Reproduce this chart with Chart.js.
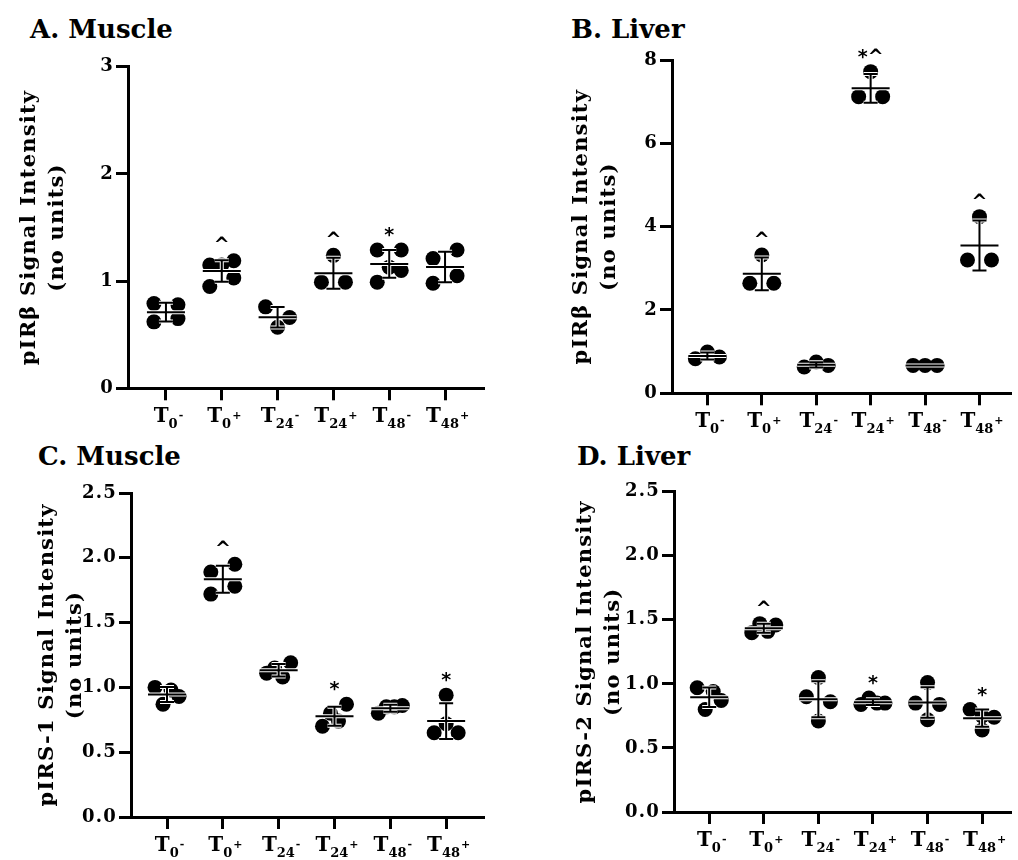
<!DOCTYPE html>
<html>
<head>
<meta charset="utf-8">
<script src="https://cdn.jsdelivr.net/npm/chart.js@4.4.1/dist/chart.umd.min.js"></script>
<style>
  body { margin: 0; background: #fff; }
  #page { position: relative; width: 1018px; height: 860px; overflow: hidden; }
  canvas { position: absolute; }
  .panel-title { position: absolute; font: bold 26px "DejaVu Serif", serif; line-height: 1; color: #000; white-space: nowrap; }
</style>
</head>
<body>
<div id="page">
  <div class="panel-title" style="left:30px;top:16px">A. Muscle</div>
  <div class="panel-title" style="left:571px;top:16px">B. Liver</div>
  <div class="panel-title" style="left:38px;top:443px">C. Muscle</div>
  <div class="panel-title" style="left:577px;top:443px">D. Liver</div>
  <canvas id="chartA" width="500" height="400" style="left:0;top:40px"></canvas>
  <canvas id="chartB" width="498" height="400" style="left:520px;top:40px"></canvas>
  <canvas id="chartC" width="500" height="390" style="left:0;top:470px"></canvas>
  <canvas id="chartD" width="498" height="390" style="left:520px;top:470px"></canvas>
</div>
<script>
// groups on the x axis (T + subscript hour + superscript sign)
const categories = ["T0-", "T0+", "T24-", "T24+", "T48-", "T48+"];

// A. Muscle - pIRβ, one array of points per group
const muscleIRb = [
  [0.79, 0.78, 0.62, 0.65],
  [1.15, 1.15, 1.19, 0.95, 1.03],
  [0.76, 0.57, 0.66],
  [0.99, 1.24, 0.99],
  [1.29, 1.29, 0.99, 1.13, 1.10],
  [1.21, 1.29, 0.98, 1.05]
];
const muscleIRbMarks = ["", "^", "", "^", "*", ""];
const muscleIRbTicks = [0, 1, 2, 3];

// B. Liver - pIRβ
const liverIRb = [
  [0.83, 0.99, 0.87],
  [3.32, 2.64, 2.64],
  [0.63, 0.75, 0.67],
  [7.72, 7.12, 7.12],
  [0.67, 0.67, 0.67],
  [4.24, 3.20, 3.20]
];
const liverIRbMarks = ["", "^", "", "*^", "", "^"];
const liverIRbTicks = [0, 2, 4, 6, 8];

// C. Muscle - pIRS-1
const muscleIRS1 = [
  [1.00, 0.87, 0.98, 0.93],
  [1.89, 1.95, 1.72, 1.78],
  [1.11, 1.15, 1.08, 1.19],
  [0.70, 0.80, 0.74, 0.87],
  [0.80, 0.85, 0.85, 0.86],
  [0.94, 0.65, 0.72, 0.65]
];
const muscleIRS1Marks = ["", "^", "", "*", "", "*"];

// D. Liver - pIRS-2
const liverIRS2 = [
  [0.97, 0.80, 0.94, 0.87],
  [1.40, 1.47, 1.41, 1.46],
  [1.05, 0.90, 0.86, 0.71],
  [0.84, 0.89, 0.85, 0.85],
  [1.01, 0.85, 0.84, 0.72],
  [0.80, 0.75, 0.74, 0.64]
];
const liverIRS2Marks = ["", "^", "", "*", "", "*"];
const irsTicks = [0, 0.5, 1, 1.5, 2, 2.5];

const SERIF = '"DejaVu Serif", "Liberation Serif", serif';
Chart.defaults.font.family = SERIF;
Chart.defaults.color = "#000";

function mean(vals) {
  return vals.reduce((a, b) => a + b, 0) / vals.length;
}

function stdev(vals) {
  const m = mean(vals);
  return Math.sqrt(vals.reduce((a, v) => a + (v - m) * (v - m), 0) / (vals.length - 1));
}

// spread points that sit close together side by side (column scatter)
function swarm(chart, groups) {
  const xs = chart.scales.x, ys = chart.scales.y;
  const spread = 12, gap = 12;
  const pts = [];
  groups.forEach((vals, g) => {
    const items = vals.map((v, i) => ({ v, i, py: ys.getPixelForValue(v) }));
    const sorted = [...items].sort((a, b) => a.py - b.py);
    const bins = [];
    let bin = [];
    sorted.forEach(it => {
      if (bin.length && it.py - bin[bin.length - 1].py >= gap) {
        bins.push(bin);
        bin = [];
      }
      bin.push(it);
    });
    if (bin.length) bins.push(bin);

    const cx = xs.getPixelForValue(g);
    bins.forEach(b => {
      b.sort((a, c) => a.i - c.i);
      b.forEach((it, k) => {
        const off = b.length === 1 ? 0 : -spread + k * 2 * spread / (b.length - 1);
        pts.push({ x: xs.getValueForPixel(cx + off), y: it.v });
      });
    });
  });
  return pts;
}

// a little extra tracking for the axis texts, like the original figure
const spacingPlugin = {
  id: "spacing",
  beforeDraw(chart) { chart.ctx.letterSpacing = "1.2px"; },
  afterDraw(chart) { chart.ctx.letterSpacing = "0px"; }
};

// mean +/- SD bars and the significance marks
function errorBarPlugin(groups, marks) {
  return {
    id: "errorBars",
    afterDatasetsDraw(chart) {
      const { ctx, scales: { x, y } } = chart;
      ctx.save();
      ctx.letterSpacing = "0px";
      groups.forEach((vals, g) => {
        const m = mean(vals), s = stdev(vals);
        const cx = x.getPixelForValue(g);
        const ym = y.getPixelForValue(m);
        const yt = y.getPixelForValue(m + s);
        const yb = y.getPixelForValue(m - s);
        const segs = [
          [cx - 19, ym, cx + 19, ym],
          [cx, yt, cx, yb],
          [cx - 7, yt, cx + 7, yt],
          [cx - 7, yb, cx + 7, yb]
        ];
        [["#fff", 4], ["#000", 2]].forEach(([col, w]) => {
          ctx.strokeStyle = col;
          ctx.lineWidth = w;
          ctx.beginPath();
          segs.forEach(([x1, y1, x2, y2]) => {
            ctx.moveTo(x1, y1);
            ctx.lineTo(x2, y2);
          });
          ctx.stroke();
        });

        if (marks[g]) {
          const top = Math.min(y.getPixelForValue(Math.max(...vals)), yt);
          ctx.fillStyle = "#000";
          ctx.font = 'bold 19px "DejaVu Sans", sans-serif';
          ctx.textAlign = "center";
          ctx.textBaseline = "alphabetic";
          ctx.fillText(marks[g], cx, top - 9);
        }
      });
      ctx.restore();
    }
  };
}

// x labels: T with subscript hour and superscript sign
const xLabelPlugin = {
  id: "xLabels",
  afterDraw(chart) {
    const { ctx, chartArea, scales: { x } } = chart;
    const base = chartArea.bottom + 34;
    ctx.save();
    ctx.letterSpacing = "0px";
    ctx.fillStyle = "#000";
    ctx.textAlign = "left";
    ctx.textBaseline = "alphabetic";
    categories.forEach((cat, i) => {
      const [, sub, sup] = cat.match(/^T(\d+)([+-])$/);
      ctx.font = "bold 20px " + SERIF;
      const wT = ctx.measureText("T").width;
      ctx.font = "bold 13px " + SERIF;
      const wSub = ctx.measureText(sub).width;
      ctx.font = "bold 11px " + SERIF;
      const wSup = ctx.measureText(sup).width;
      let left = x.getPixelForValue(i) - (wT + wSub + wSup) / 2 + 2;
      ctx.font = "bold 20px " + SERIF;
      ctx.fillText("T", left, base);
      left += wT;
      ctx.font = "bold 13px " + SERIF;
      ctx.fillText(sub, left, base + 6);
      left += wSub + 1;
      ctx.font = "bold 11px " + SERIF;
      ctx.fillText(sup, left, base - 3);
    });
    ctx.restore();
  }
};

function buildPanel(id, cfg) {
  const axisGrid = {
    drawOnChartArea: false, drawTicks: true, tickLength: 12,
    lineWidth: 3, tickWidth: 3, color: "#000", tickColor: "#000"
  };
  const chart = new Chart(document.getElementById(id), {
    type: "scatter",
    data: {
      datasets: [{
        data: cfg.groups.flatMap((vals, g) => vals.map(v => ({ x: g, y: v }))),
        backgroundColor: "#000",
        borderWidth: 0,
        pointRadius: 7.5,
        pointHoverRadius: 7.5
      }]
    },
    options: {
      responsive: false,
      animation: false,
      events: [],
      layout: { padding: { left: 0, top: cfg.padTop, right: cfg.padRight, bottom: 0 } },
      plugins: { legend: { display: false }, tooltip: { enabled: false } },
      scales: {
        x: {
          type: "linear",
          min: cfg.xMin,
          max: cfg.xMax,
          afterBuildTicks: s => { s.ticks = categories.map((c, i) => ({ value: i })); },
          afterFit: s => { s.height = cfg.xHeight; },
          ticks: { callback: () => "" },
          grid: axisGrid,
          border: { color: "#000", width: 3 }
        },
        y: {
          min: 0,
          max: cfg.ticks[cfg.ticks.length - 1],
          afterBuildTicks: s => { s.ticks = cfg.ticks.map(v => ({ value: v })); },
          afterFit: s => { s.width = cfg.yWidth; },
          ticks: {
            color: "#000",
            padding: 2,
            font: { size: 18, weight: "bold" },
            callback: v => cfg.decimals ? v.toFixed(1) : String(v)
          },
          grid: axisGrid,
          border: { color: "#000", width: 3 },
          title: {
            display: true,
            text: cfg.yTitle,
            color: "#000",
            font: { size: 21, weight: "bold", lineHeight: 28 / 21 },
            padding: { top: cfg.titlePad, bottom: 0 }
          }
        }
      }
    },
    plugins: [spacingPlugin, errorBarPlugin(cfg.groups, cfg.marks), xLabelPlugin]
  });
  chart.data.datasets[0].data = swarm(chart, cfg.groups);
  chart.update("none");
  return chart;
}

buildPanel("chartA", {
  groups: muscleIRb, marks: muscleIRbMarks, ticks: muscleIRbTicks, decimals: false,
  yTitle: ["pIRβ Signal Intensity", "(no units)"],
  xMin: -0.68, xMax: 5.68, padTop: 26.7, padRight: 17, yWidth: 128, xHeight: 51.7, titlePad: 16
});

buildPanel("chartB", {
  groups: liverIRb, marks: liverIRbMarks, ticks: liverIRbTicks, decimals: false,
  yTitle: ["pIRβ Signal Intensity", "(no units)"],
  xMin: -0.65, xMax: 5.57, padTop: 20, padRight: 0, yWidth: 152, xHeight: 46.7, titlePad: 48
});

buildPanel("chartC", {
  groups: muscleIRS1, marks: muscleIRS1Marks, ticks: irsTicks, decimals: true,
  yTitle: ["pIRS-1 Signal Intensity", "(no units)"],
  xMin: -0.645, xMax: 5.66, padTop: 23, padRight: 17, yWidth: 131, xHeight: 43, titlePad: 33.5
});

buildPanel("chartD", {
  groups: liverIRS2, marks: liverIRS2Marks, ticks: irsTicks, decimals: true,
  yTitle: ["pIRS-2 Signal Intensity", "(no units)"],
  xMin: -0.645, xMax: 5.52, padTop: 21.7, padRight: 0, yWidth: 154, xHeight: 48, titlePad: 52
});
</script>
</body>
</html>
